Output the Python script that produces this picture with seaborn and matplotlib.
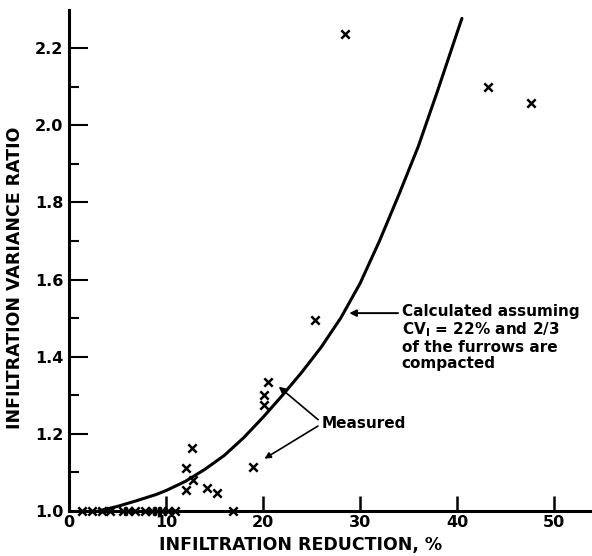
"""
Infiltration variance ratio vs. infiltration reduction: measured points
and the calculated curve (CV_I = 22%, 2/3 of furrows compacted).
"""

import pandas as pd
import matplotlib
matplotlib.use("Agg")
import matplotlib.pyplot as plt
import seaborn as sns
from matplotlib.ticker import MultipleLocator

# Measured points (infiltration reduction %, variance ratio)
measured_x = [28.4, 43.2, 47.6, 25.4, 20.5, 20.1, 20.1, 19.0, 12.7, 12.1,
              12.8, 12.05, 14.2, 15.3, 16.9,
              1.3, 2.4, 3.4, 4.2, 5.6, 6.1, 6.8, 7.8, 8.6, 9.1, 9.6, 10.2, 10.9]
measured_y = [2.236, 2.10, 2.057, 1.495, 1.334, 1.30, 1.275, 1.114, 1.163, 1.111,
              1.08, 1.054, 1.06, 1.047, 1.0,
              1.0, 1.0, 1.0, 1.0, 1.0, 1.0, 1.0, 1.0, 1.0, 1.0, 1.0, 1.0, 1.0]

# Calculated curve
curve_x = [3, 5, 7, 9, 10, 12, 14, 16, 18, 20, 22, 24, 26, 28,
           30, 32, 34, 36, 38, 40, 40.5]
curve_y = [1.0, 1.012, 1.027, 1.043, 1.053, 1.077, 1.108, 1.144, 1.19, 1.243,
           1.30, 1.36, 1.425, 1.50, 1.59, 1.70, 1.82, 1.945, 2.09, 2.24, 2.277]

measured = pd.DataFrame({"reduction": measured_x, "ratio": measured_y})
curve = pd.DataFrame({"reduction": curve_x, "ratio": curve_y})

sns.set_style("ticks")
plt.rcParams["font.family"] = ["DejaVu Sans"]
plt.rcParams["font.weight"] = "bold"
for key in ["text.color", "axes.labelcolor", "xtick.color", "ytick.color",
            "axes.edgecolor"]:
    plt.rcParams[key] = "black"

fig = plt.figure(figsize=(5.92, 5.56), dpi=100)
ax = fig.add_axes([0.1166, 0.0809, 0.880, 0.901])

sns.lineplot(data=curve, x="reduction", y="ratio", ax=ax, color="black",
             linewidth=2.2, sort=True, estimator=None)
sns.scatterplot(data=measured, x="reduction", y="ratio", ax=ax, marker="x",
                color="black", s=36, linewidth=1.8, zorder=3, clip_on=False)

ax.set_xlim(0, 53.7)
ax.set_ylim(1.0, 2.2986)

ax.xaxis.set_major_locator(MultipleLocator(10))
ax.yaxis.set_major_locator(MultipleLocator(0.2))
ax.yaxis.set_minor_locator(MultipleLocator(0.1))
ax.yaxis.set_major_formatter(lambda v, p: f"{v:.1f}")
ax.tick_params(axis="y", which="major", direction="in", length=14, width=1.5,
               labelsize=11.5, pad=4)
ax.tick_params(axis="y", which="minor", direction="in", length=7, width=1.5)
ax.tick_params(axis="x", which="major", direction="in", length=11, width=1.8,
               labelsize=11.5, pad=3)

sns.despine(ax=ax)
for side in ["left", "bottom"]:
    ax.spines[side].set_linewidth(2.2)

ax.set_xlabel("")
ax.set_ylabel("")
fig.text(0.508, 0.019, "INFILTRATION REDUCTION, %", ha="center", va="center",
         fontsize=12.5, fontweight="bold")
fig.text(0.026, 0.50, "INFILTRATION VARIANCE RATIO", ha="center", va="center",
         rotation=90, fontsize=12.5, fontweight="bold")

# Annotations
ax.annotate("", xy=(28.6, 1.513), xytext=(34.2, 1.513),
            arrowprops=dict(arrowstyle="-|>", color="black", lw=1.4,
                            mutation_scale=10))
ax.text(34.3, 1.537, "Calculated assuming\nCV$_\\mathbf{I}$ = 22% and 2/3\nof the furrows are\ncompacted",
        ha="left", va="top", fontsize=11, fontweight="bold",
        linespacing=1.1)
ax.annotate("", xy=(21.4, 1.327), xytext=(25.9, 1.232),
            arrowprops=dict(arrowstyle="-|>", color="black", lw=1.2,
                            mutation_scale=9))
ax.annotate("", xy=(19.9, 1.132), xytext=(25.9, 1.224),
            arrowprops=dict(arrowstyle="-|>", color="black", lw=1.2,
                            mutation_scale=9))
ax.text(26.0, 1.228, "Measured", ha="left", va="center", fontsize=11,
        fontweight="bold")

fig.savefig("out.png", dpi=100)
